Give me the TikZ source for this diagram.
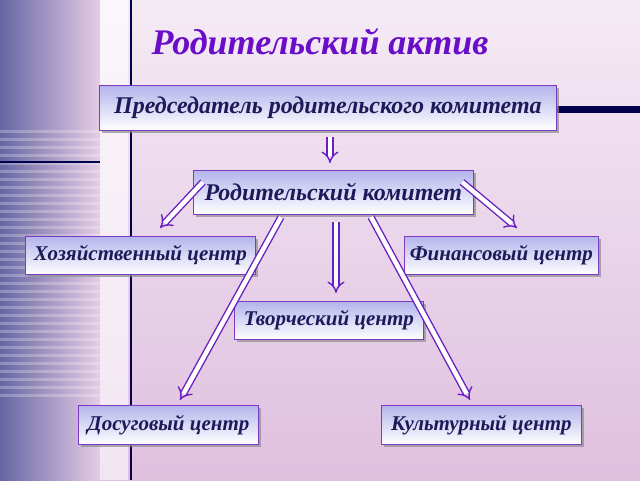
\documentclass[tikz,border=0pt]{standalone}
\usepackage{fontspec}
\setmainfont{Liberation Serif}
\usetikzlibrary{arrows.meta,shadows}
\definecolor{bord}{HTML}{7A3CC0}
\definecolor{ink}{HTML}{1E1A5A}
\definecolor{ttl}{HTML}{6A0DC8}
\definecolor{arr}{HTML}{6A1FC0}
\definecolor{boxtop}{HTML}{B4B4EC}
\tikzset{
 bx/.style={draw=bord,line width=0.8pt,top color=boxtop,bottom color=white,
   font=\bfseries\itshape\fontsize{21}{23}\selectfont,text=ink,
   drop shadow={shadow xshift=3pt,shadow yshift=-3pt,fill=black!45,opacity=0.7},
   anchor=north west,inner sep=0pt,align=center},
 big/.style={font=\bfseries\itshape\fontsize{24}{26}\selectfont},
 harr/.style={draw=arr,double=white,double distance=4.5pt,line width=1.4pt,-{Implies[length=6pt,width=10pt]}},
}
\begin{document}
\begin{tikzpicture}[x=1pt,y=-1pt]
\useasboundingbox (0,0) rectangle (640,480);
\shade[top color=black!5!violet!8!white,bottom color=violet!25!white] (0,0) rectangle (640,480);
\shade[left color=blue!40!black!60!white,right color=violet!20!white] (0,0) rectangle (100,480);
\foreach \y in {130,138,...,400}{\fill[white,opacity=0.25] (0,\y) rectangle (100,\y+3);}
\fill[white,opacity=0.6] (100,0) rectangle (128,480);
\draw[blue!30!black,line width=1.5pt] (131,0) -- (131,480);
\draw[blue!30!black,line width=1.2pt] (0,162) -- (100,162);
\fill[blue!30!black] (556,106) rectangle (640,113);
\node[font=\bfseries\itshape\fontsize{36}{38}\selectfont,text=ttl] (title) at (320,42) {Родительский актив};
\node[bx,big,minimum width=457pt,minimum height=45pt] (pred) at (99,85) {Председатель родительского комитета};
\node[bx,big,minimum width=280pt,minimum height=44pt] (kom) at (193,170) {Родительский комитет};
\node[bx,minimum width=230pt,minimum height=38pt] (hoz) at (25,236) {Хозяйственный центр};
\node[bx,minimum width=194pt,minimum height=38pt] (fin) at (404,236) {Финансовый центр};
\node[bx,minimum width=189pt,minimum height=38pt] (tvor) at (234,301) {Творческий центр};
\node[bx,minimum width=180pt,minimum height=39pt] (dos) at (78,405) {Досуговый центр};
\node[bx,minimum width=200pt,minimum height=39pt] (kul) at (381,405) {Культурный центр};
\draw[harr] (pred.south -| 330,0) ++(0,6) -- (330,163);
\draw[harr] (203,182) -- (160,228);
\draw[harr] (462,182) -- (517,228);
\draw[harr] (336,222) -- (336,293);
\draw[harr] (281,217) -- (180,400);
\draw[harr] (371,217) -- (470,400);
\end{tikzpicture}
\end{document}
